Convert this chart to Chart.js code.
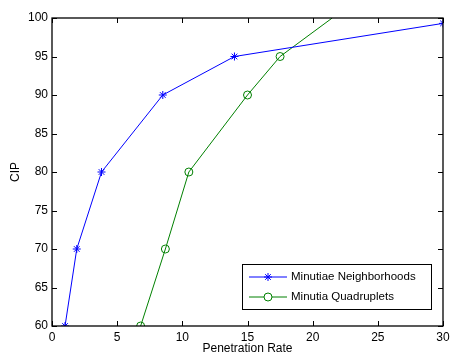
<!DOCTYPE html>
<html lang="en">
<head>
    <meta charset="UTF-8">
    <title>CIP vs Penetration Rate</title>
    <script src="https://cdn.jsdelivr.net/npm/chart.js"></script>
    <style>
        html, body { margin: 0; padding: 0; background: #fff; }
        #wrap { width: 450px; height: 356px; }
    </style>
</head>
<body>
    <div id="wrap"><canvas id="cipChart" width="450" height="356"></canvas></div>
    <script>
        // data
        const seriesNames = ['Minutiae Neighborhoods', 'Minutia Quadruplets'];
        const neighX = [1, 1.9, 3.8, 8.5, 14, 30];
        const neighY = [60, 70, 80, 90, 95, 99.3];
        const quadX = [6.8, 8.7, 10.5, 15, 17.5, 21.5];
        const quadY = [60, 70, 80, 90, 95, 100];
        const xTicks = [0, 5, 10, 15, 20, 25, 30];
        const yTicks = [60, 65, 70, 75, 80, 85, 90, 95, 100];

        const FONT = 'Liberation Sans, Arial, Helvetica, sans-serif';

        function toPoints(xs, ys) {
            return xs.map((x, i) => ({ x: x, y: ys[i] }));
        }

        // box, inward ticks on all four sides
        const frame = {
            id: 'frame',
            afterDatasetsDraw(chart) {
                const { ctx, chartArea: a, scales } = chart;
                ctx.save();
                ctx.strokeStyle = '#000';
                ctx.lineWidth = 1;
                ctx.beginPath();
                xTicks.forEach(v => {
                    const px = Math.round(scales.x.getPixelForValue(v)) + 0.5;
                    ctx.moveTo(px, a.bottom); ctx.lineTo(px, a.bottom - 5);
                    ctx.moveTo(px, a.top); ctx.lineTo(px, a.top + 5);
                });
                yTicks.forEach(v => {
                    const py = Math.round(scales.y.getPixelForValue(v)) + 0.5;
                    ctx.moveTo(a.left, py); ctx.lineTo(a.left + 5, py);
                    ctx.moveTo(a.right, py); ctx.lineTo(a.right - 5, py);
                });
                ctx.stroke();
                ctx.lineWidth = 1.3;
                ctx.strokeRect(a.left, a.top, a.right - a.left, a.bottom - a.top);
                ctx.restore();
            }
        };

        // legend box in the lower right, like the original
        const boxLegend = {
            id: 'boxLegend',
            afterDraw(chart) {
                const { ctx } = chart;
                const x0 = 242, y0 = 264, w = 189, h = 45;
                ctx.save();
                ctx.fillStyle = '#fff';
                ctx.fillRect(x0, y0, w, h);
                ctx.strokeStyle = '#000';
                ctx.lineWidth = 1;
                ctx.strokeRect(x0 + 0.5, y0 + 0.5, w, h);
                chart.data.datasets.forEach((ds, i) => {
                    const y = y0 + 13 + i * 20;
                    ctx.strokeStyle = ds.borderColor;
                    ctx.lineWidth = 1;
                    ctx.beginPath();
                    ctx.moveTo(249, y); ctx.lineTo(287, y);
                    ctx.stroke();
                    ctx.fillStyle = '#fff';
                    Chart.helpers.drawPoint(ctx, {
                        pointStyle: ds.pointStyle, radius: 4, borderWidth: 1
                    }, 268, y);
                    ctx.fillStyle = '#000';
                    ctx.font = '11.5px ' + FONT;
                    ctx.textBaseline = 'middle';
                    ctx.fillText(ds.label, 291, y);
                });
                ctx.restore();
            }
        };

        const ctx = document.getElementById('cipChart').getContext('2d');
        new Chart(ctx, {
            type: 'line',
            data: {
                datasets: [{
                    label: seriesNames[0],
                    data: toPoints(neighX, neighY),
                    borderColor: '#0000ff',
                    backgroundColor: 'transparent',
                    borderWidth: 1,
                    pointStyle: 'star',
                    pointRadius: 4,
                    pointBorderWidth: 1,
                    pointBorderColor: '#0000ff',
                    tension: 0
                }, {
                    label: seriesNames[1],
                    data: toPoints(quadX, quadY),
                    borderColor: '#008000',
                    backgroundColor: 'transparent',
                    borderWidth: 1,
                    pointStyle: 'circle',
                    pointRadius: [4, 4, 4, 4, 4, 0],
                    pointBorderWidth: 1,
                    pointBorderColor: '#008000',
                    pointBackgroundColor: 'transparent',
                    tension: 0
                }]
            },
            options: {
                responsive: false,
                animation: false,
                events: [],
                layout: { padding: { top: 18, right: 7, bottom: 0, left: 0 } },
                plugins: { legend: { display: false }, tooltip: { enabled: false } },
                scales: {
                    x: {
                        type: 'linear',
                        min: 0, max: 30,
                        afterBuildTicks: s => { s.ticks = xTicks.map(v => ({ value: v })); },
                        afterFit: s => { s.height = 30; s.paddingLeft = 0; s.paddingRight = 0; },
                        grid: { display: false, drawTicks: false },
                        border: { display: false },
                        ticks: { color: '#000', padding: 4, font: { family: FONT, size: 12 }, maxRotation: 0 },
                        title: { display: true, text: 'Penetration Rate', color: '#000', padding: { top: 0, bottom: 0 }, font: { family: FONT, size: 12 } }
                    },
                    y: {
                        type: 'linear',
                        min: 60, max: 100,
                        afterBuildTicks: s => { s.ticks = yTicks.map(v => ({ value: v })); },
                        afterFit: s => { s.width = 52; s.paddingTop = 0; s.paddingBottom = 0; },
                        grid: { display: false, drawTicks: false },
                        border: { display: false },
                        ticks: { color: '#000', padding: 4, font: { family: FONT, size: 12 } },
                        title: { display: true, text: 'CIP', color: '#000', padding: { top: 8, bottom: 0 }, font: { family: FONT, size: 12 } }
                    }
                }
            },
            plugins: [frame, boxLegend]
        });
    </script>
</body>
</html>
